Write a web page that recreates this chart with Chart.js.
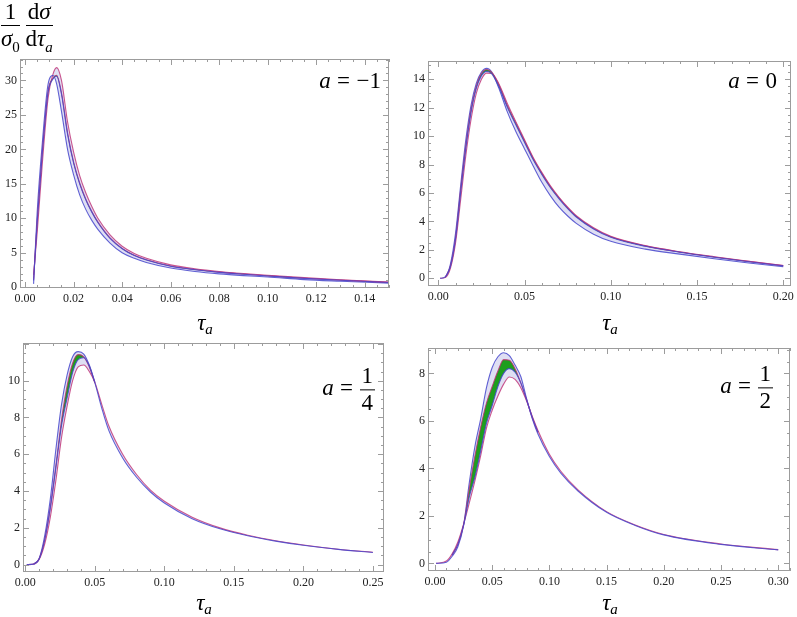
<!DOCTYPE html>
<html>
<head>
<meta charset="utf-8">
<script src="https://cdn.jsdelivr.net/npm/chart.js@4.4.1/dist/chart.umd.min.js"></script>
<style>
  body { margin: 0; width: 797px; height: 617px; background: #fff; position: relative; overflow: hidden;
         font-family: 'Liberation Serif', 'DejaVu Serif', serif; color: #000; }
  canvas { position: absolute; }
  .lab { position: absolute; white-space: nowrap; }
  .frac { display: inline-block; vertical-align: middle; text-align: center; }
  .frac > span { display: block; line-height: 1.05; }
  .frac .num { border-bottom: 1px solid #000; padding: 0 2px 1px; }
  .frac .den { padding-top: 1px; }
  .tau { font-size: 23px; transform: translate(-50%, -50%); }
  .tau sub { font-size: 15px; vertical-align: -4px; }
  .aval { font-size: 23px; transform: translateY(-50%); }
  .aval .eq { margin: 0 0.28em; }
</style>
</head>
<body>
<canvas id="pA" width="398" height="310" style="left:0;top:0"></canvas>
<canvas id="pB" width="399" height="310" style="left:398px;top:0"></canvas>
<canvas id="pC" width="398" height="307" style="left:0;top:310px"></canvas>
<canvas id="pD" width="399" height="307" style="left:398px;top:310px"></canvas>

<div class="lab" style="left:1px;top:0;font-size:23px">
  <span class="frac"><span class="num">1</span><span class="den"><i>σ</i><sub style="font-size:15px">0</sub></span></span>
  <span class="frac"><span class="num">d<i>σ</i></span><span class="den">d<i>τ</i><sub style="font-size:15px"><i>a</i></sub></span></span>
</div>

<div class="lab tau" style="left:205px;top:324px"><i>τ</i><sub><i>a</i></sub></div>
<div class="lab tau" style="left:610px;top:324px"><i>τ</i><sub><i>a</i></sub></div>
<div class="lab tau" style="left:204px;top:604px"><i>τ</i><sub><i>a</i></sub></div>
<div class="lab tau" style="left:610px;top:604px"><i>τ</i><sub><i>a</i></sub></div>

<div class="lab aval" style="right:416px;top:81px"><i>a</i><span class="eq">=</span>−1</div>
<div class="lab aval" style="right:20px;top:81px"><i>a</i><span class="eq">=</span>0</div>
<div class="lab aval" style="right:422px;top:390px"><i>a</i><span class="eq">=</span><span class="frac"><span class="num">1</span><span class="den">4</span></span></div>
<div class="lab aval" style="right:24px;top:388px"><i>a</i><span class="eq">=</span><span class="frac"><span class="num">1</span><span class="den">2</span></span></div>

<script>
// ---- a = -1 ----
const tauM1   = [0.0035, 0.005, 0.007, 0.0095, 0.0115, 0.013, 0.015, 0.0175, 0.020, 0.0225, 0.025, 0.0275, 0.030, 0.035, 0.040, 0.045, 0.050, 0.060, 0.070, 0.080, 0.090, 0.100, 0.115, 0.130, 0.150];
const blueM1  = [0.5, 11, 20.5, 29.5, 30.7, 29.5, 25.5, 20.0, 16.3, 13.4, 11.3, 9.7, 8.4, 6.4, 5.0, 4.2, 3.6, 2.8, 2.3, 1.95, 1.7, 1.5, 1.12, 0.88, 0.6];
const magM1   = [1.8, 8, 17.5, 27.5, 30.9, 31.85, 30.0, 24.0, 19.6, 16.2, 13.7, 11.7, 10.0, 7.6, 5.95, 4.9, 4.2, 3.25, 2.7, 2.3, 2.0, 1.75, 1.4, 1.1, 0.75];
const grnTauM1 = tauM1;
const grnHiM1 = [1.1, 9.7, 19.2, 28.5, 30.35, 30.75, 28.2, 22.4, 18.15, 15.12, 12.82, 11.0, 9.48, 7.16, 5.65, 4.65, 4.0, 3.09, 2.58, 2.2, 1.92, 1.67, 1.32, 1.04, 0.71];
const grnLoM1 = [1.0, 9.5, 19.0, 28.3, 30.2, 30.6, 28.0, 22.2, 18.0, 15.0, 12.7, 10.9, 9.4, 7.1, 5.6, 4.6, 3.95, 3.05, 2.55, 2.17, 1.89, 1.65, 1.3, 1.02, 0.7];
const xTicksM1 = [0, 0.02, 0.04, 0.06, 0.08, 0.10, 0.12, 0.14];
const yTicksM1 = [0, 5, 10, 15, 20, 25, 30];

// ---- a = 0 ----
const tau0    = [0.001, 0.004, 0.007, 0.010, 0.013, 0.016, 0.019, 0.022, 0.025, 0.028, 0.031, 0.035, 0.040, 0.045, 0.050, 0.055, 0.060, 0.065, 0.070, 0.075, 0.080, 0.090, 0.100, 0.120, 0.140, 0.160, 0.180, 0.200];
const blue0   = [0, 0.1, 1.0, 3.2, 6.6, 9.8, 12.2, 13.7, 14.5, 14.76, 14.5, 13.4, 11.7, 10.3, 9.1, 7.9, 6.75, 5.8, 5.0, 4.38, 3.86, 3.1, 2.6, 2.05, 1.7, 1.38, 1.08, 0.82];
const mag0    = [0, 0.05, 0.7, 2.5, 5.6, 8.7, 11.2, 13.0, 14.0, 14.43, 14.4, 13.7, 12.3, 11.0, 9.75, 8.5, 7.45, 6.5, 5.7, 5.0, 4.4, 3.55, 2.95, 2.3, 1.87, 1.52, 1.2, 0.9];
const grnTau0 = [0.004, 0.007, 0.010, 0.013, 0.016, 0.019, 0.022, 0.025, 0.028, 0.031, 0.035, 0.040, 0.045, 0.050, 0.055, 0.060, 0.065, 0.070, 0.075, 0.080, 0.090, 0.100, 0.120, 0.140, 0.160, 0.180, 0.200];
const grnHi0  = [0.07, 0.85, 2.85, 6.3, 9.4, 11.9, 13.5, 14.4, 14.68, 14.48, 13.62, 12.15, 10.9, 9.65, 8.42, 7.38, 6.44, 5.65, 4.95, 4.36, 3.51, 2.92, 2.28, 1.85, 1.5, 1.19, 0.89];
const grnLo0  = [0.07, 0.83, 2.8, 6.1, 9.2, 11.7, 13.35, 14.25, 14.55, 14.38, 13.5, 12.02, 10.78, 9.55, 8.33, 7.3, 6.37, 5.59, 4.9, 4.31, 3.47, 2.89, 2.25, 1.83, 1.48, 1.17, 0.88];
const xTicks0 = [0, 0.05, 0.10, 0.15, 0.20];
const yTicks0 = [0, 2, 4, 6, 8, 10, 12, 14];

// ---- a = 1/4 ----
const tauQ    = [0.001, 0.006, 0.010, 0.014, 0.018, 0.022, 0.026, 0.030, 0.034, 0.038, 0.042, 0.046, 0.050, 0.055, 0.060, 0.070, 0.080, 0.090, 0.100, 0.120, 0.140, 0.160, 0.180, 0.200, 0.225, 0.250];
const blueQ   = [0, 0.03, 0.35, 1.6, 3.6, 6.3, 8.7, 10.3, 11.3, 11.58, 11.45, 10.85, 9.9, 8.5, 7.3, 5.8, 4.75, 3.95, 3.35, 2.5, 1.95, 1.57, 1.28, 1.05, 0.83, 0.66];
const magQ    = [0, 0.03, 0.3, 1.15, 2.6, 4.6, 6.9, 8.6, 10.0, 10.75, 10.85, 10.5, 9.9, 8.7, 7.55, 6.0, 4.9, 4.05, 3.45, 2.58, 2.0, 1.6, 1.3, 1.07, 0.84, 0.67];
const grnTauQ = [0.006, 0.010, 0.014, 0.018, 0.022, 0.026, 0.030, 0.034, 0.038, 0.042, 0.046, 0.050];
const grnHiQ  = [0.03, 0.33, 1.4, 3.15, 5.4, 7.85, 9.7, 10.95, 11.42, 11.3, 10.75, 9.9];
const grnLoQ  = [0.03, 0.32, 1.37, 3.1, 5.3, 7.55, 9.05, 10.45, 11.15, 11.25, 10.8, 9.9];
const xTicksQ = [0, 0.05, 0.10, 0.15, 0.20, 0.25];
const yTicksQ = [0, 2, 4, 6, 8, 10];

// ---- a = 1/2 ----
const tauH    = [0.001, 0.010, 0.015, 0.020, 0.025, 0.030, 0.035, 0.040, 0.045, 0.050, 0.055, 0.060, 0.065, 0.070, 0.075, 0.080, 0.085, 0.090, 0.100, 0.110, 0.125, 0.150, 0.175, 0.200, 0.250, 0.300];
const blueH   = [0, 0.05, 0.3, 0.7, 1.6, 3.4, 4.95, 6.1, 7.4, 8.25, 8.7, 8.87, 8.75, 8.35, 7.87, 6.95, 6.1, 5.45, 4.5, 3.8, 3.05, 2.15, 1.6, 1.2, 0.8, 0.57];
const magH    = [0, 0.1, 0.4, 0.9, 1.65, 2.55, 3.5, 4.55, 5.7, 6.45, 7.05, 7.55, 7.85, 7.75, 7.4, 6.85, 6.2, 5.6, 4.6, 3.88, 3.1, 2.18, 1.62, 1.22, 0.82, 0.58];
const grnTauH = [0.015, 0.020, 0.025, 0.030, 0.035, 0.040, 0.045, 0.050, 0.055, 0.060, 0.065, 0.070, 0.075, 0.080, 0.085, 0.090];
const grnHiH  = [0.35, 0.8, 1.62, 3.15, 4.55, 5.75, 6.75, 7.45, 8.1, 8.58, 8.55, 8.2, 7.6, 6.9, 6.15, 5.52];
const grnLoH  = [0.35, 0.8, 1.6, 2.8, 3.65, 4.75, 5.9, 6.65, 7.45, 8.0, 8.2, 8.05, 7.6, 6.9, 6.15, 5.52];
const xTicksH = [0, 0.05, 0.10, 0.15, 0.20, 0.25, 0.30];
const yTicksH = [0, 2, 4, 6, 8];

const BLUE = 'rgba(70,70,205,0.85)';
const MAGENTA = 'rgba(190,45,115,0.8)';
const LAVENDER = 'rgba(196,196,234,0.55)';
const GREEN = 'rgb(30,158,30)';
const FONT = { family: "'Liberation Serif', 'DejaVu Serif', serif", size: 12 };

const pts = (xs, ys) => xs.map((x, i) => ({ x, y: ys[i] }));

// Mathematica-style frame with inward major/minor ticks on all four sides
const framePlugin = {
  id: 'frame',
  afterDraw(chart, args, opts) {
    const { ctx, chartArea: a, scales: { x, y } } = chart;
    ctx.save();
    ctx.strokeStyle = '#9c9c9c';
    ctx.lineWidth = 1;
    ctx.strokeRect(Math.round(a.left) + 0.5, Math.round(a.top) + 0.5, Math.round(a.width) - 1, Math.round(a.height) - 1);
    ctx.beginPath();
    const xs = opts.xStep / opts.xSub;
    for (let k = Math.ceil(x.min / xs); k * xs <= x.max + 1e-9; k++) {
      const px = Math.round(x.getPixelForValue(k * xs)) + 0.5;
      const len = k % opts.xSub === 0 ? 6 : 3;
      ctx.moveTo(px, a.bottom); ctx.lineTo(px, a.bottom - len);
      ctx.moveTo(px, a.top); ctx.lineTo(px, a.top + len);
    }
    const ys = opts.yStep / opts.ySub;
    for (let k = Math.ceil(y.min / ys); k * ys <= y.max + 1e-9; k++) {
      const py = Math.round(y.getPixelForValue(k * ys)) + 0.5;
      const len = k % opts.ySub === 0 ? 6 : 3;
      ctx.moveTo(a.left, py); ctx.lineTo(a.left + len, py);
      ctx.moveTo(a.right, py); ctx.lineTo(a.right - len, py);
    }
    ctx.stroke();
    ctx.restore();
  }
};

function makePanel(id, rect, frame, xr, yr, xt, yt, xSub, ySub, tau, blue, mag, gTau, gHi, gLo) {
  const yW = 18, xH = 22;
  const line = (data, color, extra) => Object.assign({
    data, borderColor: color, borderWidth: 1.1, pointRadius: 0, fill: false,
    cubicInterpolationMode: 'monotone'
  }, extra);
  new Chart(document.getElementById(id), {
    type: 'line',
    data: {
      datasets: [
        line(pts(tau, blue), BLUE, { order: 2 }),
        line(pts(tau, mag), MAGENTA, { order: 3, fill: '-1', backgroundColor: LAVENDER }),
        line(pts(gTau, gHi), MAGENTA, { order: 1, fill: '+1', backgroundColor: GREEN }),
        line(pts(gTau, gLo), BLUE, { order: 0 })
      ]
    },
    options: {
      responsive: false,
      animation: false,
      layout: { padding: {
        left: frame.l - rect.l - yW, top: frame.t - rect.t,
        right: rect.l + rect.w - frame.r, bottom: rect.t + rect.h - frame.b - xH } },
      plugins: { legend: { display: false }, tooltip: { enabled: false },
                 frame: { xStep: xt[1] - xt[0], yStep: yt[1] - yt[0], xSub, ySub } },
      scales: {
        x: {
          type: 'linear', min: xr[0], max: xr[1],
          afterBuildTicks: s => { s.ticks = xt.map(v => ({ value: v })); },
          afterFit: s => { s.height = xH; s.paddingLeft = 0; s.paddingRight = 0; },
          ticks: { font: FONT, color: '#222', padding: 4, maxRotation: 0, autoSkip: false,
                   callback: v => v.toFixed(2) },
          grid: { display: false, drawTicks: false }, border: { display: false }
        },
        y: {
          type: 'linear', min: yr[0], max: yr[1],
          afterBuildTicks: s => { s.ticks = yt.map(v => ({ value: v })); },
          afterFit: s => { s.width = yW; s.paddingTop = 0; s.paddingBottom = 0; },
          ticks: { font: FONT, color: '#222', padding: 3, autoSkip: false, callback: v => String(v) },
          grid: { display: false, drawTicks: false }, border: { display: false }
        }
      }
    },
    plugins: [framePlugin]
  });
}

makePanel('pA', { l: 0, t: 0, w: 398, h: 310 }, { l: 20, t: 59, r: 389, b: 288 },
  [-0.0021, 0.150], [-0.1, 33.1], xTicksM1, yTicksM1, 4, 5,
  tauM1, blueM1, magM1, grnTauM1, grnHiM1, grnLoM1);
makePanel('pB', { l: 398, t: 0, w: 399, h: 310 }, { l: 428, t: 61, r: 791, b: 286 },
  [-0.006, 0.2045], [-0.54, 15.28], xTicks0, yTicks0, 5, 4,
  tau0, blue0, mag0, grnTau0, grnHi0, grnLo0);
makePanel('pC', { l: 0, t: 310, w: 398, h: 307 }, { l: 23, t: 343, r: 384, b: 572 },
  [-0.0017, 0.258], [-0.4, 12.05], xTicksQ, yTicksQ, 5, 4,
  tauQ, blueQ, magQ, grnTauQ, grnHiQ, grnLoQ);
makePanel('pD', { l: 398, t: 310, w: 399, h: 307 }, { l: 428, t: 348, r: 790, b: 571 },
  [-0.0061, 0.3103], [-0.32, 9.07], xTicksH, yTicksH, 5, 4,
  tauH, blueH, magH, grnTauH, grnHiH, grnLoH);
</script>
</body>
</html>
